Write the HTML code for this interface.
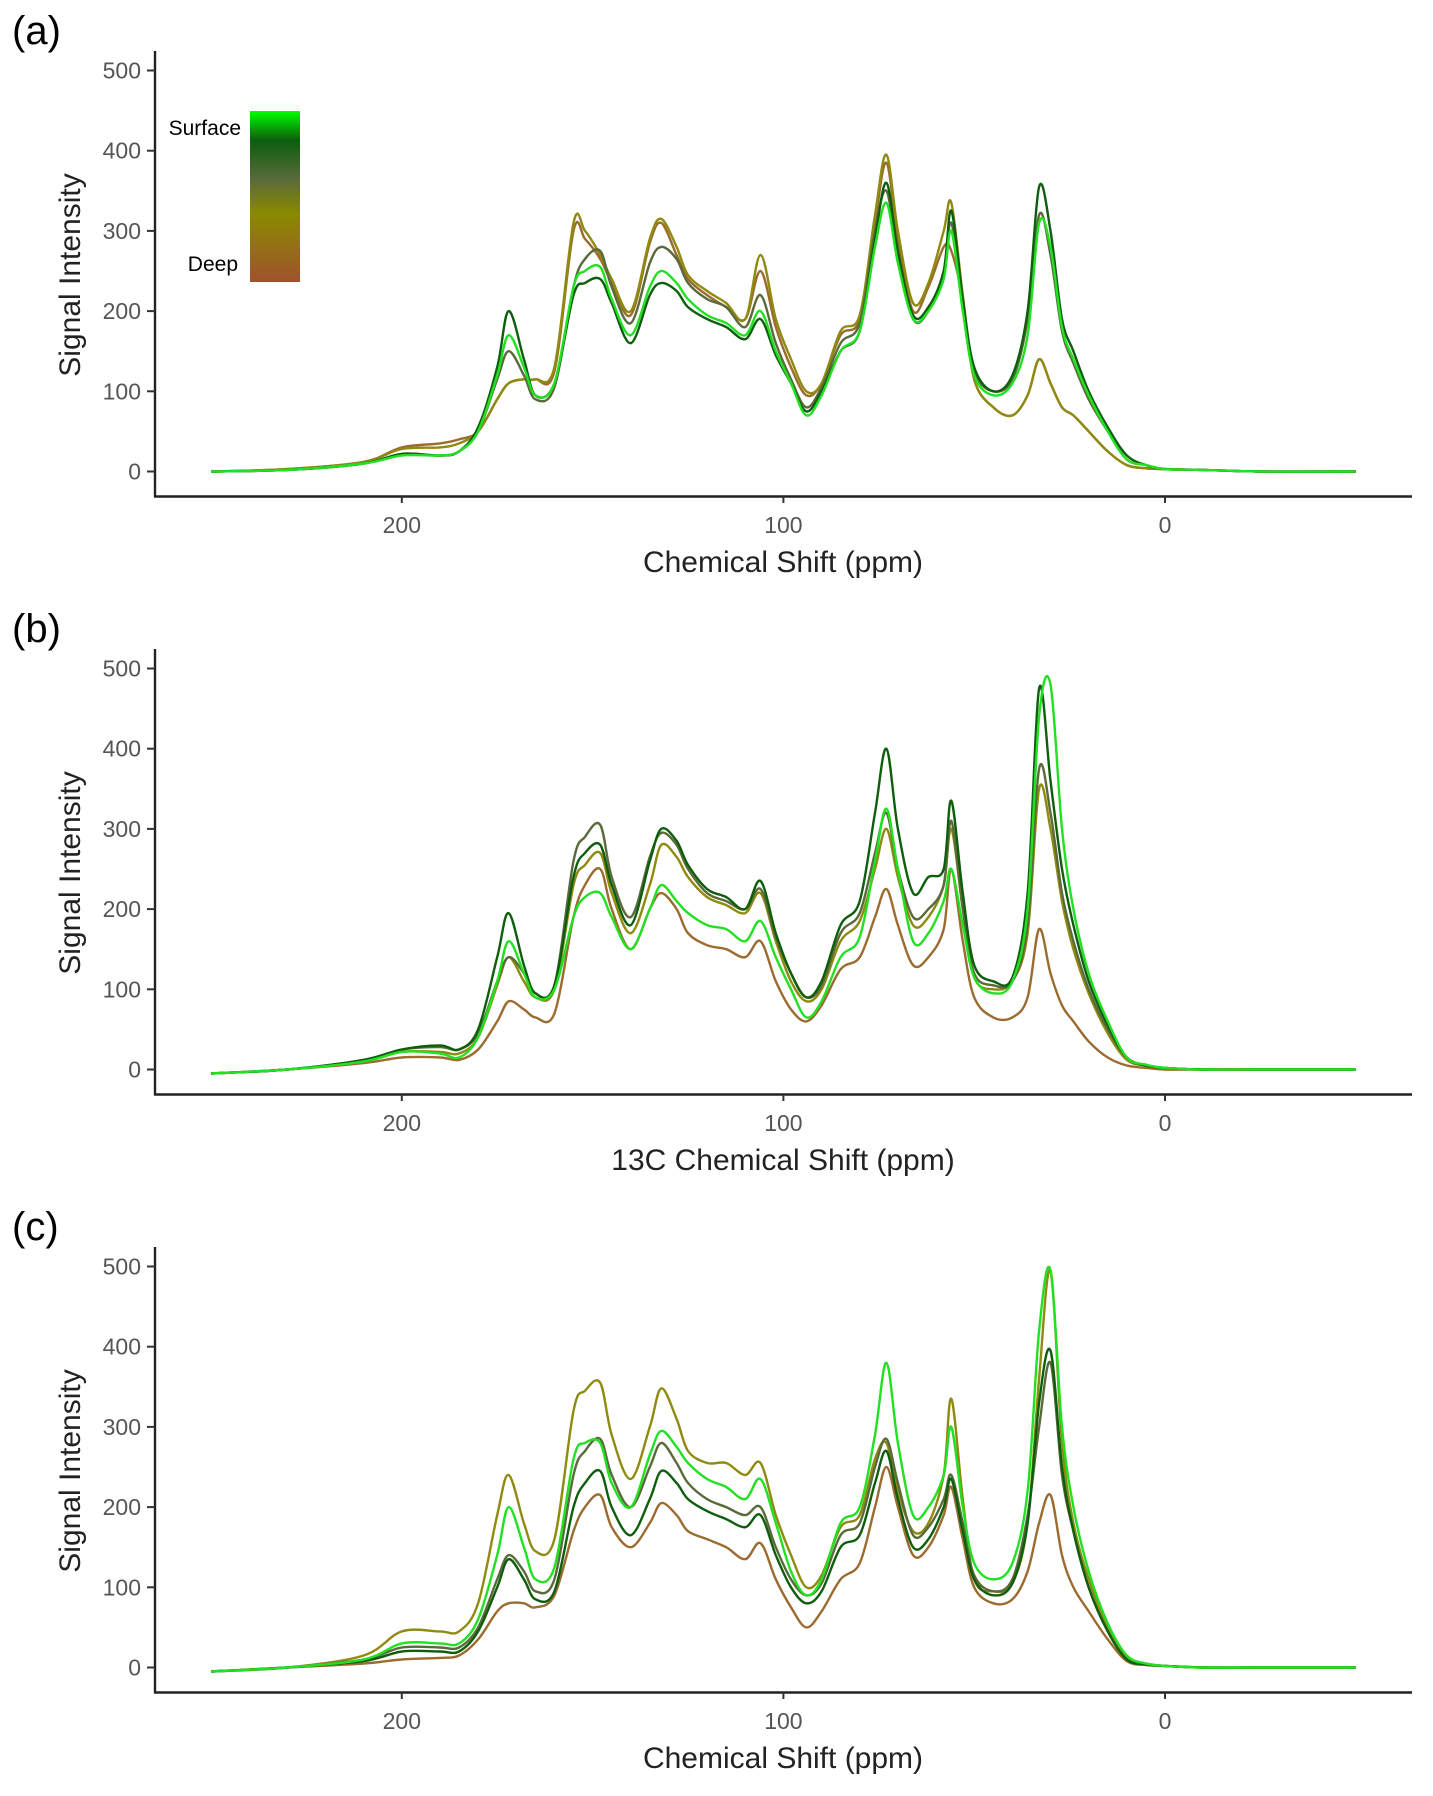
<!DOCTYPE html>
<html><head><meta charset="utf-8">
<style>
html,body{margin:0;padding:0;background:#fff;}
svg{display:block;font-family:"Liberation Sans",Arial,sans-serif;}
</style></head>
<body>
<svg id="chart" width="1433" height="1796" viewBox="0 0 1433 1796" xmlns="http://www.w3.org/2000/svg">
<defs>
<linearGradient id="cbar" x1="0" y1="0" x2="0" y2="1">
<stop offset="0" stop-color="#00ff00"/>
<stop offset="0.17" stop-color="#0c5f0c"/>
<stop offset="0.4" stop-color="#5a6a3a"/>
<stop offset="0.6" stop-color="#8a8a00"/>
<stop offset="1" stop-color="#a0522d"/>
</linearGradient>
</defs>
<g id="root"></g>
</svg>
<script>
const ppm = [250,230,210,200,190,185,180,175,172,168,165,160,155,152,148,145,140,135,132,128,125,120,115,110,106,102,98,94,90,85,80,76,73,70,66,62,58,56,53,50,45,40,36,33,30,27,24,20,15,10,5,0,-10,-25,-50];
const seriesNames = ['surface','upper','middle','lower','deep'];
const seriesColors = ['#22e022','#0e5e0e','#5a6a3a','#8f8a10','#9b6b2f'];
const yTicks = [0,100,200,300,400,500];
const xTicks = [200,100,0];
const xTitles = ['Chemical Shift (ppm)','13C Chemical Shift (ppm)','Chemical Shift (ppm)'];
const panelLabels = ['(a)','(b)','(c)'];

const panelA = [
[0,2,10,20,20,25,50,120,170,130,95,110,230,250,255,215,170,230,250,235,215,195,185,170,200,150,110,70,95,150,175,280,335,260,190,200,240,300,200,120,95,110,170,310,280,180,140,95,50,15,8,3,2,0,0],
[0,2,10,22,20,25,55,130,200,140,95,110,220,235,240,210,160,220,235,225,205,190,180,165,190,145,110,75,100,150,175,290,360,275,195,205,250,325,215,130,100,120,200,355,300,190,150,100,55,20,8,3,2,0,0],
[0,2,10,22,20,25,50,115,150,120,90,105,230,265,275,230,185,260,280,265,235,215,205,180,220,160,115,80,105,160,185,300,350,270,190,200,250,310,210,125,100,115,190,320,270,175,135,90,50,15,8,3,2,0,0],
[0,3,12,28,30,35,50,90,110,115,115,130,310,300,270,240,200,290,315,280,245,225,210,190,270,190,140,100,110,175,195,320,395,300,210,235,300,335,220,115,80,70,95,140,110,80,70,50,25,8,4,3,2,0,0],
[0,3,12,30,35,40,50,90,110,115,115,125,300,290,265,235,195,285,310,270,240,220,205,190,250,180,130,95,110,170,190,310,385,290,200,230,280,275,215,115,80,70,95,140,110,80,70,50,25,8,4,3,2,0,0]
];
const panelB = [
[-5,0,10,22,20,15,40,110,160,120,90,100,190,215,220,190,150,200,230,210,195,180,175,160,185,140,100,65,85,140,165,260,325,250,160,170,210,250,180,115,95,110,200,440,480,300,200,120,60,15,6,2,0,0,0],
[-5,0,12,25,30,25,50,140,195,130,95,105,240,270,280,230,180,260,300,285,255,225,215,200,235,170,120,90,110,180,210,320,400,300,220,240,250,335,220,130,110,115,220,475,360,250,180,110,55,15,5,2,0,0,0],
[-5,0,12,25,28,25,45,110,140,120,95,105,260,290,305,240,190,265,295,280,250,220,210,200,225,165,120,90,105,170,195,270,320,250,190,200,230,310,200,120,105,110,180,375,320,220,160,100,50,15,5,2,0,0,0],
[-5,0,10,22,22,20,40,105,140,110,90,100,230,255,270,220,170,230,280,265,240,215,205,195,220,160,110,85,100,160,185,250,300,240,180,190,230,300,200,115,100,110,170,350,300,210,150,95,45,12,5,2,0,0,0],
[-5,0,8,15,15,12,25,60,85,75,65,70,190,230,250,200,150,200,220,200,170,155,150,140,160,110,75,60,80,125,140,190,225,180,130,140,175,250,160,90,65,65,90,175,120,80,60,35,15,5,2,0,0,0,0]
];
const panelC = [
[-5,0,10,30,30,30,60,140,200,150,110,125,260,280,280,230,200,265,295,275,255,235,225,210,235,180,120,90,110,180,200,290,380,280,190,200,240,300,200,130,110,130,220,420,495,300,200,120,55,15,5,2,0,0,0],
[-5,0,8,20,20,20,45,100,135,110,85,95,200,230,245,200,165,210,245,230,210,195,185,175,190,140,100,80,95,150,165,230,270,210,150,160,200,235,170,110,90,105,180,330,395,250,170,100,45,10,4,2,0,0,0],
[-5,0,10,25,25,25,50,110,140,120,95,110,240,270,285,240,200,250,280,255,230,210,200,190,200,150,110,90,105,165,180,250,285,230,165,175,210,240,180,115,95,110,190,300,380,240,170,100,45,10,4,2,0,0,0],
[-5,0,15,45,45,45,80,190,240,180,145,160,320,345,355,290,235,300,348,310,270,255,255,240,255,190,140,100,115,175,190,260,280,220,170,180,240,335,210,110,95,105,180,360,495,280,180,110,50,12,5,2,0,0,0],
[-5,0,5,10,12,15,35,70,80,80,75,90,170,200,215,175,150,180,205,190,170,160,150,135,155,110,75,50,70,110,130,200,250,200,140,150,190,225,160,100,80,85,120,180,215,140,100,70,35,8,3,2,0,0,0]
];
const panels = [panelA, panelB, panelC];

const NS = 'http://www.w3.org/2000/svg';
const root = document.getElementById('root');
function mk(tag, attrs, parent){
  const e = document.createElementNS(NS, tag);
  for (const k in attrs) e.setAttribute(k, attrs[k]);
  (parent||root).appendChild(e);
  return e;
}
const X0 = 155, XEND = 1412;
function xScale(p){ return 1165 - p * 3.816; }
function yScaleFor(dy){ return v => 471.5 + dy - v * 0.802; }

function smoothPath(pts){
  let d = 'M' + pts[0][0].toFixed(1) + ',' + pts[0][1].toFixed(1);
  for (let i = 0; i < pts.length - 1; i++){
    const p0 = pts[Math.max(0,i-1)], p1 = pts[i], p2 = pts[i+1], p3 = pts[Math.min(pts.length-1,i+2)];
    const t = 1/6;
    const c1x = p1[0] + (p2[0]-p0[0])*t, c1y = p1[1] + (p2[1]-p0[1])*t;
    const c2x = p2[0] - (p3[0]-p1[0])*t, c2y = p2[1] - (p3[1]-p1[1])*t;
    d += ' C' + c1x.toFixed(1) + ',' + c1y.toFixed(1) + ' ' + c2x.toFixed(1) + ',' + c2y.toFixed(1) + ' ' + p2[0].toFixed(1) + ',' + p2[1].toFixed(1);
  }
  return d;
}

panels.forEach((data, pi) => {
  const dy = pi * 598;
  const y = yScaleFor(dy);
  const g = mk('g', {});
  
  
  const lab = mk('text', {x: 12, y: 44 + dy, 'font-size': 40, fill: '#000'}, g);
  
  
  lab.textContent = panelLabels[pi];
  const ya = mk('line', {x1: X0, y1: 51 + dy, x2: X0, y2: 497 + dy, stroke: '#222', 'stroke-width': 2.4}, g);
  
  
  const xa = mk('line', {x1: X0 - 1, y1: 496.5 + dy, x2: XEND, y2: 496.5 + dy, stroke: '#222', 'stroke-width': 2.4}, g);
  
  
  yTicks.forEach(t => {
    const tk = mk('line', {x1: X0 - 8, x2: X0, y1: y(t), y2: y(t), stroke: '#333', 'stroke-width': 2}, g);
    
    
    const tl = mk('text', {x: X0 - 14, y: y(t) + 8, 'font-size': 23, fill: '#555', 'text-anchor': 'end'}, g);
    
    
    tl.textContent = t;
  });
  xTicks.forEach(t => {
    const tk = mk('line', {x1: xScale(t), x2: xScale(t), y1: 496.5 + dy, y2: 503 + dy, stroke: '#333', 'stroke-width': 2}, g);
    
    
    const tl = mk('text', {x: xScale(t), y: 533 + dy, 'font-size': 23, fill: '#555', 'text-anchor': 'middle'}, g);
    
    
    tl.textContent = t;
  });
  const xt = mk('text', {x: 783, y: 572 + dy, 'font-size': 30, fill: '#222', 'text-anchor': 'middle'}, g);
  
  
  xt.textContent = xTitles[pi];
  const yt = mk('text', {x: 0, y: 0, 'font-size': 30, fill: '#222', 'text-anchor': 'middle', transform: 'translate(80,' + (275 + dy) + ') rotate(-90)'}, g);
  
  
  yt.textContent = 'Signal Intensity';
  for (let si = data.length - 1; si >= 0; si--){
    const pts = ppm.map((p, i) => [xScale(p), y(data[si][i])]);
    const path = mk('path', {d: smoothPath(pts), fill: 'none', stroke: seriesColors[si], 'stroke-width': 2.4, 'stroke-linejoin': 'round'}, g);
    
    
  }
});
const lg = mk('g', {});


const cb = mk('rect', {x: 250, y: 111, width: 50, height: 171, fill: 'url(#cbar)'}, lg);


const ls = mk('text', {x: 241, y: 135, 'font-size': 21, fill: '#000', 'text-anchor': 'end'}, lg);


ls.textContent = 'Surface';
const ld = mk('text', {x: 238, y: 271, 'font-size': 21, fill: '#000', 'text-anchor': 'end'}, lg);


ld.textContent = 'Deep';
</script>
</body></html>
